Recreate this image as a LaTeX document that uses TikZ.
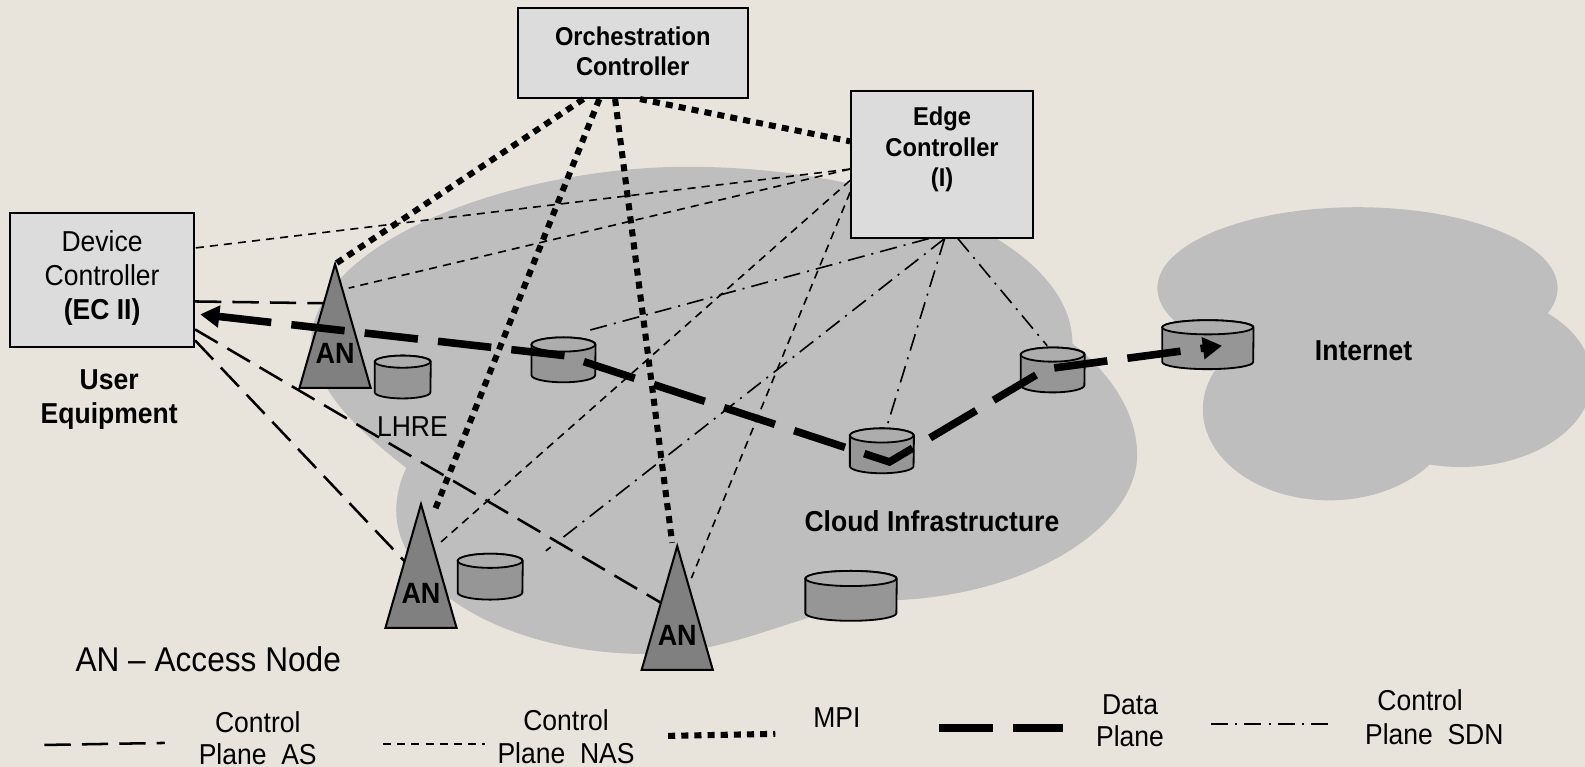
\documentclass[tikz,border=0pt]{standalone}
\usepackage{fontspec}
\setmainfont[FakeStretch=0.92]{Liberation Sans}
\usetikzlibrary{arrows.meta,calc}
\definecolor{bgc}{HTML}{E8E4DC}
\definecolor{cloudc}{HTML}{BEBEBE}
\definecolor{boxc}{HTML}{DCDCDC}
\definecolor{anc}{HTML}{808080}
\definecolor{cylb}{HTML}{969696}
\definecolor{cylt}{HTML}{ADADAD}
\pgfdeclarelayer{bg}\pgfdeclarelayer{conn}\pgfdeclarelayer{top}
\pgfsetlayers{bg,conn,main,top}
\tikzset{
 x=1pt,y=-1pt,
 ctrl/.style={draw=black,line width=2pt,fill=boxc,inner sep=0},
 ctxt/.style={align=center,inner sep=0,font=\fontsize{25.5}{30}\selectfont\bfseries},
 tankbox/.style={inner sep=0},
 tankline/.style={draw=black,line width=1.8pt},
 anbox/.style={minimum width=70pt,minimum height=122pt,inner sep=0},
 antri/.style={draw=black,line width=2pt,fill=anc,line join=miter},
 antxt/.style={font=\fontsize{29}{30}\selectfont\bfseries,inner sep=0},
 lab/.style={font=\fontsize{28.5}{32}\selectfont,align=center,inner sep=0},
 blab/.style={font=\fontsize{28.5}{34}\selectfont\bfseries,align=center,inner sep=0},
 mpi/.style={line width=6pt,dash pattern=on 7pt off 6pt},
 nas/.style={line width=1.6pt,dash pattern=on 8pt off 6pt},
 cpas/.style={line width=2.5pt,dash pattern=on 26pt off 11pt},
 sdn/.style={line width=1.6pt,dash pattern=on 17pt off 7pt on 2pt off 7pt},
 dplane/.style={line width=7.5pt,dash pattern=on 53pt off 20pt},
}
\newcommand{\accessnode}[3]{%
 \node[anbox] (#1) at (#2,#3) {};
 \draw[antri] (#1.south west) -- (#1.north) -- (#1.south east) -- cycle;
 \node[antxt] (#1t) at ($(#1.center)+(0,27)$) {AN};}
% name, x, y, half width, half height, cap radius
\newcommand{\tank}[6]{%
 \node[tankbox,minimum width=2*#4 pt,minimum height=2*#5 pt] (#1) at (#2,#3) {};
 \draw[tankline,fill=cylb] ($(#1.north west)+(0,#6)$) -- ($(#1.south west)+(0,-#6)$)
   arc[start angle=180,end angle=360,x radius=#4 pt,y radius=#6 pt]
   -- ($(#1.north east)+(0,#6)$)
   arc[start angle=0,end angle=180,x radius=#4 pt,y radius=#6 pt] -- cycle;
 \draw[tankline,fill=cylt] ($(#1.north west)+(0,#6)$)
   arc[start angle=180,end angle=360,x radius=#4 pt,y radius=#6 pt]
   arc[start angle=0,end angle=180,x radius=#4 pt,y radius=#6 pt] -- cycle;}
\begin{document}
\begin{tikzpicture}
\useasboundingbox (0,0) rectangle (1568.1,758.8);
\begin{pgfonlayer}{bg}
\fill[bgc] (0,0) rectangle (1568.1,758.8);
% clouds
\fill[cloudc] (309,325) .. controls (330,230) and (520,165) .. (680,165)
  .. controls (880,165) and (1061,240) .. (1061,340)
  .. controls (1100,370) and (1125,410) .. (1125,450)
  .. controls (1125,520) and (1020,590) .. (880,594)
  .. controls (800,600) and (730,647) .. (640,647)
  .. controls (500,647) and (392,580) .. (392,505)
  .. controls (392,490) and (396,475) .. (402,463)
  .. controls (360,430) and (300,380) .. (309,325) -- cycle;
\begin{scope}
\clip (1100,150) rectangle (1568.1,560);
\fill[cloudc] (1343,285) ellipse [x radius=198,y radius=80];
\fill[cloudc] (1315,405) ellipse [x radius=125,y radius=90];
\fill[cloudc] (1445,375) ellipse [x radius=130,y radius=87];
\end{scope}
\end{pgfonlayer}
% controllers
\node[ctrl,minimum width=228pt,minimum height=89pt] (orch) at (626,52.5) {};
\node[ctxt] (orcht) at (626,51) {Orchestration\\Controller};
\node[ctrl,minimum width=180pt,minimum height=145pt] (edge) at (932,162.5) {};
\node[ctxt] (edget) at (932,148) {Edge\\Controller\\(I)};
\node[ctrl,minimum width=182pt,minimum height=132pt] (dev) at (101,277) {};
\node[lab,font=\fontsize{28.5}{33.5}\selectfont] (devt) at (101,275) {Device\\Controller\\\textbf{(EC II)}};
\node[blab] (ue) at (108,395) {User\\Equipment};
% access nodes
\accessnode{an1}{331.5}{322.5}
\accessnode{an2}{416.5}{560}
\accessnode{an3}{670}{601.5}
% storage
\tank{c1}{398.5}{373}{27.5}{21}{6}
\tank{c2}{557.5}{356}{31.5}{22}{7}
\tank{c3}{872.5}{446}{31.5}{22}{7}
\tank{c4}{1041.5}{366}{31.5}{22}{7}
\tank{c5}{1195}{341}{45}{24}{7}
\tank{c6}{842}{589.5}{45}{24.5}{7.5}
\tank{c7}{485}{570.5}{32}{22.5}{7}
% free ends
\coordinate (nasA) at (345,285);
\coordinate (nasB) at (432,540);
\coordinate (nasC) at (684,572);
\coordinate (sdnA) at (582,327);
\coordinate (sdnB) at (540,545);
\coordinate (sdnC) at (878,420);
\coordinate (sdnD) at (1036,342);
\coordinate (mpiB) at (430,505);
\coordinate (mpiC) at (665,537);
\coordinate (asA) at (320,300);
\coordinate (asB) at (400,555);
\coordinate (asC) at (655,597);
\coordinate (dpDev) at (198,311);
\coordinate (dpC) at (560,352);
\coordinate (dpD) at (880,457);
\coordinate (dpE) at (1025,371);
\coordinate (dpF) at (1043,364);
\coordinate (dpI) at (1209,342);
\begin{pgfonlayer}{conn}
\draw[nas] (edge.183) -- (dev.19);
\draw[nas] (edge.183) -- (nasA);
\draw[nas] (edge.190) -- (nasB);
\draw[nas] (edge.197) -- (nasC);
\draw[sdn] (edge.260) -- (sdnA);
\draw[sdn] (edge.272) -- (sdnB);
\draw[sdn] (edge.272) -- (sdnC);
\draw[sdn] (edge.282) -- (sdnD);
\draw[cpas] (dev.347) -- (asA);
\draw[cpas] (dev.332) -- (asC);
\draw[cpas] (dev.327) -- (asB);
\end{pgfonlayer}
\begin{pgfonlayer}{top}
\draw[mpi] (orch.223) -- (an1.north);
\draw[mpi] (orch.234) -- (mpiB);
\draw[mpi] (orch.249) -- (mpiC);
\draw[mpi] (orch.279) -- (edge.166);
\draw[dplane,{Triangle[length=19pt,width=21pt]}-] (dpDev) -- (dpC) -- (dpD) -- (dpE);
\draw[dplane,-{Triangle[length=19pt,width=21pt]}] (dpF) -- (dpI);
\end{pgfonlayer}
% labels
\node[lab] (lhre) at (408,422) {LHRE};
\node[blab] (ci) at (922,516) {Cloud Infrastructure};
\node[blab] (inet) at (1349,347) {Internet};
\node[lab,font=\fontsize{34}{36}\selectfont] (key) at (206,652) {AN -- Access Node};
% legend
\coordinate (la1) at (44,737); \coordinate (la2) at (163,735);
\draw[cpas] (la1) -- (la2);
\node[lab] (lat) at (255,730) {Control\\Plane\ \ AS};
\coordinate (ln1) at (379,736); \coordinate (ln2) at (480,736);
\draw[nas] (ln1) -- (ln2);
\node[lab] (lnt) at (560,729) {Control\\Plane\ \ NAS};
\coordinate (lm1) at (661,728); \coordinate (lm2) at (767,726);
\draw[mpi] (lm1) -- (lm2);
\node[lab] (lmt) at (828,710) {MPI};
\coordinate (ld1) at (929,720); \coordinate (ld2) at (1052,720);
\draw[dplane] (ld1) -- (ld2);
\node[lab] (ldt) at (1118,713) {Data\\Plane};
\coordinate (ls1) at (1198,716); \coordinate (ls2) at (1315,716);
\draw[sdn] (ls1) -- (ls2);
\node[lab] (lst) at (1405,693) {Control};
\node[lab] (lsu) at (1419,726) {Plane\ \ SDN};
\end{tikzpicture}
\end{document}
